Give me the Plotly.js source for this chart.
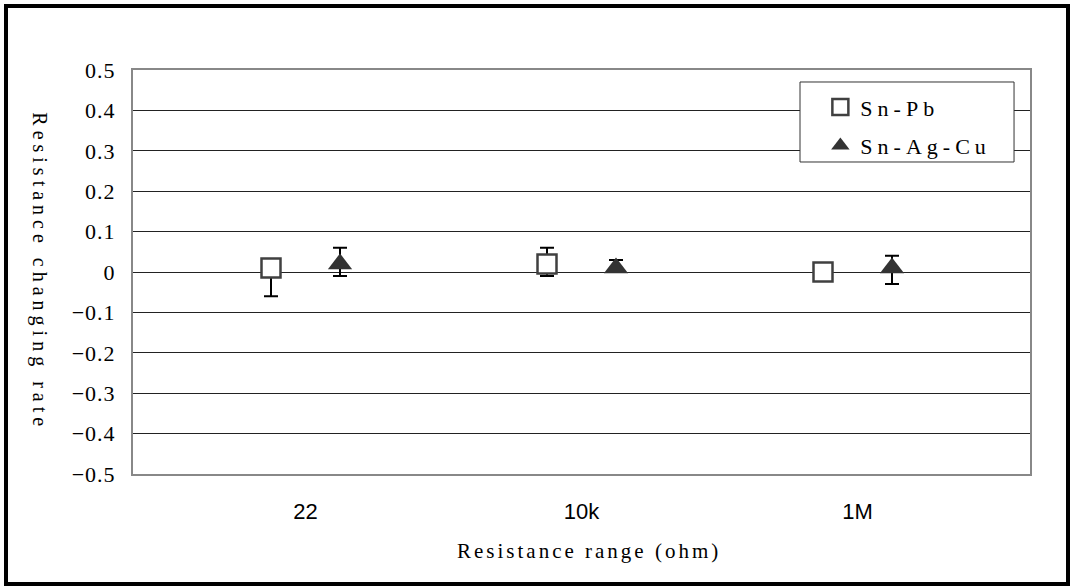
<!DOCTYPE html>
<html>
<head>
<meta charset="utf-8">
<script src="https://cdn.plot.ly/plotly-3.0.1.min.js"></script>
<style>
  html, body { margin: 0; padding: 0; background: #fff; }
  #frame { position: absolute; left: 4px; top: 4px; width: 1058px; height: 574px; border: 4px solid #000; background: #fff; }
  #chart { width: 1058px; height: 574px; }
  .legendtext { letter-spacing: 5px; }
  g.annotation[data-index="0"] text { letter-spacing: 5px; }
  g.annotation[data-index="1"] text { letter-spacing: 3px; }
  .ytick text { letter-spacing: 1px; }
</style>
</head>
<body>
<div id="frame"><div id="chart"></div></div>
<script>
// Data
const categories = ['22', '10k', '1M'];
const snPbValues = [0.01, 0.02, 0.0];
const snPbErrPlus = [0.0, 0.04, 0.0];
const snPbErrMinus = [0.07, 0.03, 0.0];
const snAgCuValues = [0.02, 0.01, 0.01];
const snAgCuErrPlus = [0.04, 0.02, 0.03];
const snAgCuErrMinus = [0.03, 0.0, 0.04];
const yTickValues = [-0.5, -0.4, -0.3, -0.2, -0.1, 0, 0.1, 0.2, 0.3, 0.4, 0.5];
const yTickLabels = ['\u22120.5', '\u22120.4', '\u22120.3', '\u22120.2', '\u22120.1', '0', '0.1', '0.2', '0.3', '0.4', '0.5'];

const catIdx = categories.map((c, i) => i);
const offset = 0.125;
const serif = '"Liberation Serif", "DejaVu Serif", serif';

const traces = [
  {
    name: 'Sn-Pb',
    type: 'scatter', mode: 'markers',
    x: catIdx.map(i => i - offset), y: snPbValues,
    legendgroup: 'a',
    marker: { symbol: 'square', size: 19, color: '#ffffff', line: { color: '#404040', width: 2.5 } },
    error_y: { type: 'data', symmetric: false, array: snPbErrPlus, arrayminus: snPbErrMinus, color: '#000', thickness: 2, width: 7 }
  },
  {
    name: 'Sn-Ag-Cu',
    type: 'scatter', mode: 'markers',
    x: catIdx.map(i => i + offset), y: snAgCuValues,
    legendgroup: 'b',
    marker: { symbol: 'triangle-up', size: 21, color: '#333333', line: { width: 0 } },
    error_y: { type: 'data', symmetric: false, array: snAgCuErrPlus, arrayminus: snAgCuErrMinus, color: '#000', thickness: 2, width: 7 }
  }
];

const layout = {
  width: 1058, height: 574,
  margin: { l: 125, r: 36, t: 62, b: 108 },
  paper_bgcolor: '#fff', plot_bgcolor: '#fff',
  showlegend: true,
  legend: {
    x: 0.744, y: 0.960, xanchor: 'left', yanchor: 'top',
    bgcolor: 'rgba(0,0,0,0)', bordercolor: 'rgba(0,0,0,0)', borderwidth: 0,
    font: { family: serif, size: 22, color: '#000' },
    tracegroupgap: 7, indentation: 20
  },
  shapes: [
    {
      type: 'rect', xref: 'paper', yref: 'paper', layer: 'above',
      x0: 0.7436, x1: 0.9822, y0: 0.7723, y1: 0.9703,
      fillcolor: '#fff', line: { color: '#333', width: 1 }
    }
  ],
  xaxis: {
    range: [-0.625, 2.625],
    tickmode: 'array', tickvals: catIdx, ticktext: categories,
    tickfont: { family: '"Liberation Sans Narrow", "Liberation Sans", Arial, sans-serif', size: 22, color: '#000' },
    showgrid: false, zeroline: false,
    showline: true, linecolor: '#888', linewidth: 2, mirror: true,
    ticks: '', ticklabelstandoff: 17, fixedrange: true
  },
  yaxis: {
    range: [-0.5, 0.5],
    tickmode: 'array', tickvals: yTickValues, ticktext: yTickLabels,
    tickfont: { family: serif, size: 22, color: '#000' },
    showgrid: true, gridcolor: '#222', gridwidth: 1, zeroline: false,
    showline: true, linecolor: '#888', linewidth: 2, mirror: true,
    ticks: '', ticklabelstandoff: 11, fixedrange: true
  },
  annotations: [
    {
      text: 'Resistance changing rate', xref: 'paper', yref: 'paper',
      x: -0.104, y: 0.5, xanchor: 'center', yanchor: 'middle', textangle: 90,
      showarrow: false, font: { family: serif, size: 20, color: '#000' }
    },
    {
      text: 'Resistance range (ohm)', xref: 'paper', yref: 'paper',
      x: 0.508, y: -0.19, xanchor: 'center', yanchor: 'middle',
      showarrow: false, font: { family: serif, size: 21, color: '#000' }
    }
  ]
};

Plotly.newPlot('chart', traces, layout, { displayModeBar: false, staticPlot: true });
</script>
</body>
</html>
